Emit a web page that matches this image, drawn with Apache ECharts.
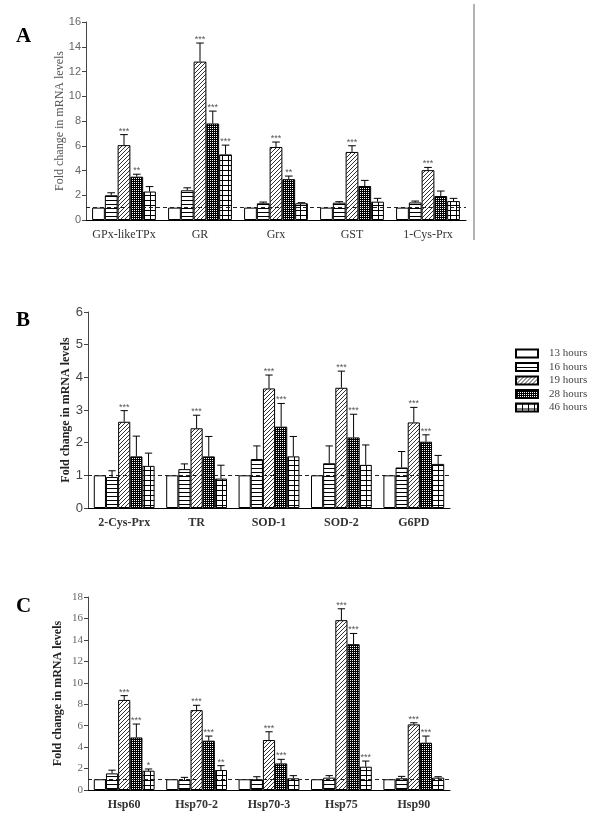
<!DOCTYPE html>
<html>
<head>
<meta charset="utf-8">
<script src="https://cdn.jsdelivr.net/npm/echarts@6/dist/echarts.min.js"></script>
<style>
html,body{margin:0;padding:0;background:#fff;}
#chart{width:600px;height:824px;}
</style>
</head>
<body>
<div id="chart"></div>
<script>
// ---------- DATA ----------
const seriesNames = ['13 hours', '16 hours', '19 hours', '28 hours', '46 hours'];

// Panel A
const catsA = ['GPx-likeTPx', 'GR', 'Grx', 'GST', '1-Cys-Prx'];
const a13 = [1, 1, 1, 1, 1];
const a16 = [2.0, 2.4, 1.35, 1.4, 1.42];
const a19 = [6.05, 12.8, 5.9, 5.5, 4.03];
const a28 = [3.5, 7.8, 3.3, 2.75, 1.94];
const a46 = [2.3, 5.3, 1.35, 1.48, 1.53];
const a13e = [0, 0, 0, 0, 0];
const a16e = [0.2, 0.2, 0.1, 0.08, 0.11];
const a19e = [0.85, 1.5, 0.4, 0.5, 0.22];
const a28e = [0.2, 1.0, 0.25, 0.45, 0.4];
const a46e = [0.4, 0.75, 0.05, 0.27, 0.22];
const a13s = ['', '', '', '', ''];
const a16s = ['', '', '', '', ''];
const a19s = ['***', '***', '***', '***', '***'];
const a28s = ['**', '***', '**', '', ''];
const a46s = ['', '***', '', '', ''];
const ticksA = {min: 0, max: 16, interval: 2};

// Panel B
const catsB = ['2-Cys-Prx', 'TR', 'SOD-1', 'SOD-2', 'G6PD'];
const b13 = [1, 1, 1, 1, 1];
const b16 = [0.95, 1.19, 1.5, 1.37, 1.24];
const b19 = [2.64, 2.44, 3.66, 3.68, 2.62];
const b28 = [1.58, 1.58, 2.49, 2.16, 2.03];
const b46 = [1.29, 0.9, 1.58, 1.32, 1.35];
const b13e = [0, 0, 0, 0, 0];
const b16e = [0.19, 0.16, 0.4, 0.53, 0.49];
const b19e = [0.34, 0.4, 0.41, 0.51, 0.46];
const b28e = [0.62, 0.61, 0.71, 0.71, 0.21];
const b46e = [0.39, 0.41, 0.61, 0.61, 0.26];
const b13s = ['', '', '', '', ''];
const b16s = ['', '', '', '', ''];
const b19s = ['***', '***', '***', '***', '***'];
const b28s = ['', '', '***', '***', '***'];
const b46s = ['', '', '', '', ''];
const ticksB = {min: 0, max: 6, interval: 1};

// Panel C
const catsC = ['Hsp60', 'Hsp70-2', 'Hsp70-3', 'Hsp75', 'Hsp90'];
const c13 = [1, 1, 1, 1, 1];
const c16 = [1.55, 0.93, 1.0, 1.15, 1.09];
const c19 = [8.4, 7.45, 4.66, 15.84, 6.12];
const c28 = [4.9, 4.6, 2.48, 13.6, 4.41];
const c46 = [1.8, 1.86, 1.09, 2.17, 1.15];
const c13e = [0, 0, 0, 0, 0];
const c16e = [0.3, 0.25, 0.24, 0.19, 0.18];
const c19e = [0.4, 0.45, 0.77, 1.06, 0.15];
const c28e = [1.25, 0.43, 0.38, 1.0, 0.62];
const c46e = [0.16, 0.41, 0.25, 0.53, 0.09];
const c13s = ['', '', '', '', ''];
const c16s = ['', '', '', '', ''];
const c19s = ['***', '***', '***', '***', '***'];
const c28s = ['***', '***', '***', '***', '***'];
const c46s = ['*', '**', '', '***', ''];
const ticksC = {min: 0, max: 18, interval: 2};

const yName = 'Fold change in mRNA levels';

// ---------- PATTERNS ----------
function makePattern(w, h, draw) {
  const c = document.createElement('canvas');
  c.width = w; c.height = h;
  const ctx = c.getContext('2d');
  ctx.fillStyle = '#fff'; ctx.fillRect(0, 0, w, h);
  draw(ctx);
  return {image: c, repeat: 'repeat'};
}
const pat13 = '#ffffff';
const pat16 = makePattern(4, 4, ctx => { ctx.fillStyle = '#000'; ctx.fillRect(0, 0, 4, 1); });
const pat19 = makePattern(4, 4, ctx => {
  ctx.fillStyle = '#333';
  ctx.fillRect(0, 3, 1, 1); ctx.fillRect(1, 2, 1, 1); ctx.fillRect(2, 1, 1, 1); ctx.fillRect(3, 0, 1, 1);
});
const pat28 = makePattern(4, 4, ctx => {
  ctx.fillStyle = '#000'; ctx.fillRect(0, 0, 4, 4);
  ctx.fillStyle = '#fff';
  ctx.fillRect(0, 0, 1, 1); ctx.fillRect(2, 2, 1, 1); ctx.fillRect(0, 2, 1, 1); ctx.fillRect(2, 0, 1, 1);
});
const pat46 = makePattern(6, 5, ctx => {
  ctx.fillStyle = '#000'; ctx.fillRect(0, 0, 6, 1); ctx.fillRect(0, 0, 1, 5);
});
const patterns = [pat13, pat16, pat19, pat28, pat46];

const GAP = 0.16;

// ---------- BUILD ----------
const panels = [
  {cats: catsA, vals: [a13, a16, a19, a28, a46], errs: [a13e, a16e, a19e, a28e, a46e], stars: [a13s, a16s, a19s, a28s, a46s], ticks: ticksA,
   grid: {left: 86, right: 134, top: 22, bottom: 604},
   yLabel: {fontFamily: 'Liberation Sans, Arial, sans-serif', fontSize: 11, color: '#666'},
   yNameStyle: {fontFamily: 'Liberation Serif, serif', fontSize: 12, color: '#555', fontWeight: 'normal'}, nameGap: 20,
   xLabelWeight: 'normal'},
  {cats: catsB, vals: [b13, b16, b19, b28, b46], errs: [b13e, b16e, b19e, b28e, b46e], stars: [b13s, b16s, b19s, b28s, b46s], ticks: ticksB,
   grid: {left: 88, right: 150, top: 312, bottom: 316},
   yLabel: {fontFamily: 'Liberation Sans, Arial, sans-serif', fontSize: 13, color: '#444'},
   yNameStyle: {fontFamily: 'Liberation Serif, serif', fontSize: 12, color: '#222', fontWeight: 'bold'}, nameGap: 16,
   xLabelWeight: 'bold'},
  {cats: catsC, vals: [c13, c16, c19, c28, c46], errs: [c13e, c16e, c19e, c28e, c46e], stars: [c13s, c16s, c19s, c28s, c46s], ticks: ticksC,
   grid: {left: 88, right: 150, top: 597, bottom: 34},
   yLabel: {fontFamily: 'Liberation Serif, serif', fontSize: 11, color: '#666'},
   yNameStyle: {fontFamily: 'Liberation Serif, serif', fontSize: 12, color: '#222', fontWeight: 'bold'}, nameGap: 24,
   xLabelWeight: 'bold'}
];

const grids = [], xAxes = [], yAxes = [], series = [];
panels.forEach((p, gi) => {
  grids.push(p.grid);
  xAxes.push({
    type: 'category', gridIndex: gi, data: p.cats,
    axisTick: {show: false},
    axisLine: {lineStyle: {color: '#000', width: 1}},
    axisLabel: {interval: 0, fontFamily: 'Liberation Serif, serif', fontSize: 12, color: '#333', fontWeight: p.xLabelWeight, margin: 9}
  });
  yAxes.push({
    type: 'value', gridIndex: gi, min: p.ticks.min, max: p.ticks.max, interval: p.ticks.interval,
    name: yName, nameLocation: 'middle', nameRotate: 90, nameGap: p.nameGap, nameMoveOverlap: false,
    nameTextStyle: p.yNameStyle,
    axisLine: {show: true, lineStyle: {color: '#444', width: 1}},
    axisTick: {show: true, length: 4, lineStyle: {color: '#444'}},
    splitLine: {show: false},
    axisLabel: Object.assign({margin: 5}, p.yLabel)
  });
  seriesNames.forEach((nm, s) => {
    const bar = {
      type: 'bar', name: nm, xAxisIndex: gi, yAxisIndex: gi,
      data: p.vals[s], barGap: '0%', barCategoryGap: (GAP * 100) + '%',
      itemStyle: {color: patterns[s], borderColor: '#000', borderWidth: 1},
      emphasis: {disabled: true}, animation: false
    };
    if (s === 0) {
      bar.markLine = {
        silent: true, symbol: ['none', 'none'], label: {show: false},
        lineStyle: {color: '#222', type: [4, 3], width: 1},
        data: [{yAxis: 1}], animation: false
      };
    }
    series.push(bar);
  });
  seriesNames.forEach((nm, s) => {
    const vals = p.vals[s], errs = p.errs[s], stars = p.stars[s];
    series.push({
      type: 'custom', name: 'err' + gi + '_' + s, xAxisIndex: gi, yAxisIndex: gi, z: 5, silent: true, animation: false,
      data: vals.map((v, i) => [i, v, v + errs[i]]),
      renderItem: (params, api) => {
        const i = api.value(0);
        const base = api.coord([i, api.value(1)]);
        const top = api.coord([i, api.value(2)]);
        const band = api.size([1, 0])[0];
        const bw = band * (1 - GAP) / 5;
        const x = base[0] + (s - 2) * bw;
        const children = [];
        if (errs[params.dataIndex] > 0) {
          children.push({type: 'line', shape: {x1: x, y1: base[1], x2: x, y2: top[1]}, style: {stroke: '#000', lineWidth: 1}});
          children.push({type: 'line', shape: {x1: x - bw * 0.3, y1: top[1], x2: x + bw * 0.3, y2: top[1]}, style: {stroke: '#000', lineWidth: 1}});
        }
        const st = stars[params.dataIndex];
        if (st) {
          children.push({type: 'text', x: x, y: top[1] + 1, style: {text: st, align: 'center', verticalAlign: 'bottom', font: '9px Liberation Sans', fill: '#555'}});
        }
        return {type: 'group', children: children};
      }
    });
  });
});

const chart = echarts.init(document.getElementById('chart'), null, {renderer: 'canvas'});
chart.setOption({
  animation: false,
  backgroundColor: '#fff',
  grid: grids, xAxis: xAxes, yAxis: yAxes, series: series,
  legend: {
    data: seriesNames, orient: 'vertical', left: 515, top: 348, padding: 0,
    icon: 'rect',
    itemWidth: 22, itemHeight: 8, itemGap: 2.5,
    textStyle: {fontFamily: 'Liberation Serif, serif', fontSize: 11, color: '#444', padding: [0, 0, 0, 6]},
    selectedMode: false
  },
  graphic: [
    {type: 'text', left: 16, top: 26, style: {text: 'A', font: 'bold 21px Liberation Serif', fill: '#000'}},
    {type: 'text', left: 16, top: 310, style: {text: 'B', font: 'bold 21px Liberation Serif', fill: '#000'}},
    {type: 'text', left: 16, top: 596, style: {text: 'C', font: 'bold 21px Liberation Serif', fill: '#000'}},
    {type: 'line', shape: {x1: 474, y1: 4, x2: 474, y2: 240}, style: {stroke: '#999', lineWidth: 1.5}}
  ]
});
</script>
</body>
</html>
